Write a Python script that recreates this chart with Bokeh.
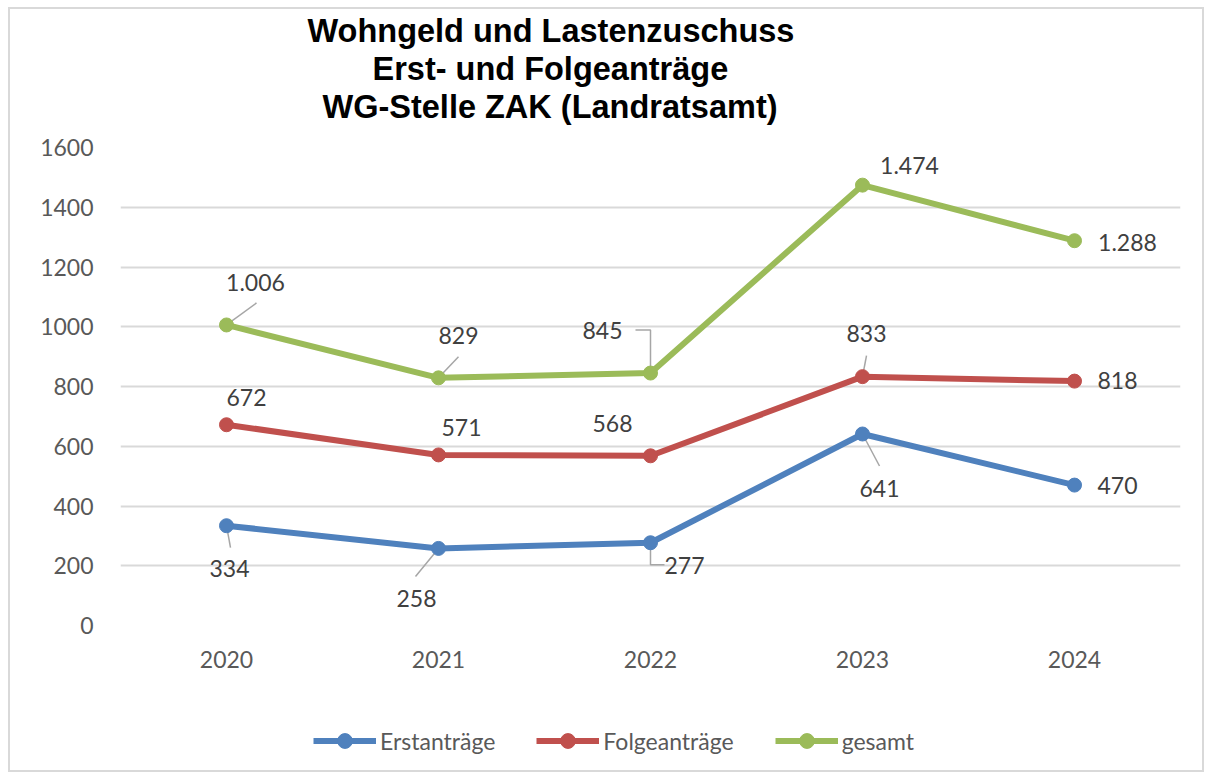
from bokeh.plotting import figure
from bokeh.layouts import column
from bokeh.models import Range1d, FixedTicker, Legend, LegendItem, ColumnDataSource, Title
from bokeh.embed import file_html
from bokeh.resources import INLINE
from bokeh.core.properties import value

# ---------------- data ----------------
years = ["2020", "2021", "2022", "2023", "2024"]
erstantraege = [334, 258, 277, 641, 470]
folgeantraege = [672, 571, 568, 833, 818]
gesamt = [1006, 829, 845, 1474, 1288]
series_names = ["Erstanträge", "Folgeanträge", "gesamt"]
title_lines = ["Wohngeld und Lastenzuschuss", "Erst- und Folgeanträge", "WG-Stelle ZAK (Landratsamt)"]
y_ticks = [0, 200, 400, 600, 800, 1000, 1200, 1400, 1600]

# ---------------- styles / layout ----------------
colors = ["#4F81BD", "#C0504D", "#9BBB59"]
FONT = "Lato"
BORDER = "#d9d9d9"
W, H_MAIN, H_LEG = 1212, 700, 75
ML, MR, MT, MB = 120, 32, 147, 75
FW, FH = W - ML - MR, H_MAIN - MT - MB
YMAX = 1600
title_left = [187, 252, 202]  # px from frame left, per title line

# label offsets in screen pixels (dx right, dy down) per series / point
label_offsets = [
    [(3, 43), (-22, 50), (34, 23), (17, 54), (43, 0)],
    [(20, -27), (23, -27), (-38, -32), (4, -43), (43, -1)],
    [(29, -42), (20, -42), (-48, -43), (47, -20), (53, 2)],
]
# leader lines in screen pixels relative to the point
leaders = [
    (0, 0, [(0, 0), (4, 22)]),
    (0, 1, [(0, 0), (-23, 28)]),
    (0, 2, [(0, 0), (0, 22), (14, 22)]),
    (0, 3, [(0, 0), (17, 32)]),
    (1, 3, [(0, 0), (4, -21)]),
    (2, 0, [(0, 0), (30, -22)]),
    (2, 1, [(0, 0), (20, -21)]),
    (2, 2, [(0, 0), (0, -43), (-15, -43)]),
]

p = figure(width=W, height=H_MAIN, output_backend="svg", toolbar_location=None,
           x_range=Range1d(-0.5, len(years) - 0.5), y_range=Range1d(0, YMAX),
           min_border_left=ML, min_border_right=MR, min_border_top=MT, min_border_bottom=MB,
           background_fill_alpha=0, border_fill_alpha=0)
p.outline_line_color = None
p.styles = {"box-shadow": (f"inset 0 7px 0 0 white, inset 8px 0 0 0 white, inset -8px 0 0 0 white, "
                           f"inset 0 9px 0 0 {BORDER}, inset 10px 0 0 0 {BORDER}, inset -10px 0 0 0 {BORDER}")}

# axes
p.xaxis.ticker = FixedTicker(ticks=list(range(len(years))))
p.xaxis.major_label_overrides = {i: y for i, y in enumerate(years)}
p.yaxis.ticker = FixedTicker(ticks=y_ticks)
for ax in (p.xaxis[0], p.yaxis[0]):
    ax.axis_line_color = None
    ax.major_tick_line_color = None
    ax.minor_tick_line_color = None
    ax.major_tick_in = 0
    ax.major_tick_out = 0
    ax.major_label_text_font = FONT
    ax.major_label_text_font_size = "23px"
    ax.major_label_text_color = "#595959"
p.yaxis.major_label_standoff = 27
p.xaxis.major_label_standoff = 25

p.xgrid.grid_line_color = None
p.ygrid.ticker = FixedTicker(ticks=y_ticks)
p.ygrid.grid_line_color = "#d9d9d9"
p.ygrid.grid_line_width = 2

xs = list(range(len(years)))
all_series = [erstantraege, folgeantraege, gesamt]

# leader lines
sx = len(years) / FW
sy = YMAX / FH
lx, ly = [], []
for si, pi, pts in leaders:
    v = all_series[si][pi]
    lx.append([xs[pi] + dx * sx for dx, dy in pts])
    ly.append([v - dy * sy for dx, dy in pts])
p.multi_line(lx, ly, line_color="#a6a6a6", line_width=1.5)

for vals, col in zip(all_series, colors):
    p.line(xs, vals, line_color=col, line_width=6, line_join="round")
    p.scatter(xs, vals, size=14, marker="circle", fill_color=col, line_color=col)

def fmt(v):
    return f"{v:,}".replace(",", ".")

for vals, offs in zip(all_series, label_offsets):
    src = ColumnDataSource(dict(x=xs, y=vals, t=[fmt(v) for v in vals],
                                dx=[o[0] for o in offs], dy=[o[1] for o in offs]))
    p.text("x", "y", text="t", source=src, x_offset="dx", y_offset="dy",
           text_align="center", text_baseline="middle",
           text_font=value(FONT), text_font_size="23px", text_color="#404040")

# title lines (first added sits closest to the plot area)
p.add_layout(Title(text=" ", text_font_size="16px", standoff=4), "above")
for t, off in reversed(list(zip(title_lines, title_left))):
    p.add_layout(Title(text=t, align="left", offset=off, standoff=0,
                       text_font="Liberation Sans", text_font_style="bold",
                       text_font_size="32.5px", text_color="black"), "above")

# ---------------- legend strip (frame aligned with the chart frame) ----------------
lf = figure(width=W, height=H_LEG, output_backend="svg", toolbar_location=None,
            x_axis_type=None, y_axis_type=None, x_range=Range1d(-0.5, len(years) - 0.5),
            y_range=Range1d(-2 * YMAX, -YMAX),
            min_border=0, background_fill_alpha=0, border_fill_alpha=0)
lf.outline_line_color = None
lf.grid.visible = False
lf.styles = {"box-shadow": (f"inset 0 -3px 0 0 white, inset 8px 0 0 0 white, inset -8px 0 0 0 white, "
                            f"inset 0 -5px 0 0 {BORDER}, inset 10px 0 0 0 {BORDER}, inset -10px 0 0 0 {BORDER}")}
items = []
for name, vals, col in zip(series_names, all_series, colors):
    r1 = lf.line(xs, vals, line_color=col, line_width=6, line_join="round")
    r2 = lf.scatter(xs, vals, size=14, marker="circle", fill_color=col, line_color=col)
    items.append(LegendItem(label=name, renderers=[r1, r2]))
legend = Legend(items=items, orientation="horizontal", location=(193, 16),
                glyph_width=63, glyph_height=37, label_standoff=4, spacing=41,
                padding=0, margin=0, border_line_color=None, background_fill_alpha=0,
                label_text_font=FONT, label_text_font_size="23px", label_text_color="#595959")
lf.add_layout(legend, "center")

layout = column(p, lf, spacing=0)

open("out.html", "w").write(file_html(layout, INLINE))
